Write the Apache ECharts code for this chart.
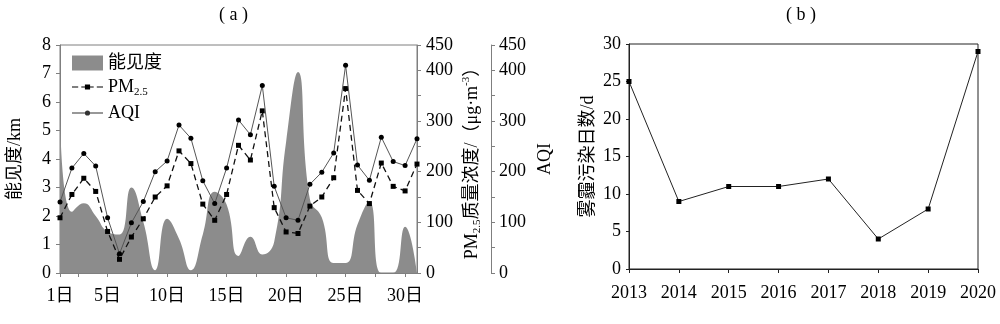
<!DOCTYPE html>
<html>
<head>
<meta charset="utf-8">
<script src="https://cdn.jsdelivr.net/npm/echarts@6/dist/echarts.min.js"></script>
<style>
  html, body { margin: 0; padding: 0; background: #fff; }
  #main { width: 1000px; height: 324px; }
</style>
</head>
<body>
<div id="main"></div>
<script>
// Panel (a): daily visibility, PM2.5 and AQI
const days = [1,2,3,4,5,6,7,8,9,10,11,12,13,14,15,16,17,18,19,20,21,22,23,24,25,26,27,28,29,30,31];
const visibility = [5.6,2.15,2.45,2.0,1.45,1.35,3.0,1.8,0.1,1.9,1.2,0.1,1.35,2.85,2.4,0.6,1.27,0.65,1.1,4.6,7.05,2.6,1.95,0.35,0.35,1.7,2.5,0,0,1.62,0];
const pm25 = [109,155,187,161,82,27,71,107,150,172,241,216,136,104,155,252,223,320,129,81,78,132,150,188,364,163,137,217,171,162,215];
const aqi = [140,207,236,211,109,38,99,141,200,221,292,266,182,137,207,302,273,370,171,109,104,175,199,237,410,213,183,268,220,212,265];
const dayLabels = [1,5,10,15,20,25,30];
const dayTicks = [1,2.5,5,7.5,10,12.5,15,17.5,20,22.5,25,27.5,30];
const concLabels = [0,100,200,300,400,450];

// Panel (b): haze pollution days per year
const years = ['2013','2014','2015','2016','2017','2018','2019','2020'];
const hazeDays = [25,9,11,11,12,4,8,29];

const FONT = "'Liberation Serif', 'Times New Roman', 'Noto Sans CJK SC', serif";
const AXIS_GRAY = '#7f7f7f';
const AREA_GRAY = '#8c8c8c';

const pair = (xs, ys) => xs.map((x, i) => [x, ys[i]]);

// legend glyphs: dashed line with square, solid line with dot
const ICON_DASH_SQUARE = 'path://M0,1.9h6v1.2h-6z M9,1.9h3.5v1.2h-3.5z M12.5,0h5v5h-5z M17.5,1.9h3.5v1.2h-3.5z M24,1.9h6v1.2h-6z';
const ICON_LINE_DOT = 'path://M0,2h30v1h-30z M15,0a2.5,2.5 0 1,1 -0.01,0z';

const chart = echarts.init(document.getElementById('main'), null, { renderer: 'canvas' });

const nameRich = {
  n: { fontFamily: FONT, fontSize: 18, color: '#000', lineHeight: 22 },
  s: { fontFamily: FONT, fontSize: 11, color: '#000', verticalAlign: 'bottom', lineHeight: 22, padding: [8, 0, 0, 0] },
  p: { fontFamily: FONT, fontSize: 11, color: '#000', verticalAlign: 'top', lineHeight: 22, padding: [0, 0, 8, 0] }
};

const option = {
  animation: false,
  textStyle: { fontFamily: FONT, color: '#000' },
  graphic: [
    { type: 'text', left: 240 - 21, top: 6, style: { text: '( a )', font: "18px " + FONT, fill: '#000' } },
    { type: 'text', left: 807 - 21, top: 6, style: { text: '( b )', font: "18px " + FONT, fill: '#000' } }
  ],
  legend: {
    orient: 'vertical',
    left: 72,
    top: 54,
    padding: 0,
    itemWidth: 31,
    itemHeight: 15,
    itemGap: 6,
    symbolKeepAspect: true,
    data: [
      { name: '能见度', icon: 'rect', itemStyle: { color: AREA_GRAY } },
      { name: 'PM2.5', icon: ICON_DASH_SQUARE, itemStyle: { color: '#000', borderWidth: 0 } },
      { name: 'AQI', icon: ICON_LINE_DOT, itemStyle: { color: '#333', borderWidth: 0 } }
    ],
    formatter: (name) => name === 'PM2.5' ? '{n|PM}{s|2.5}' : '{n|' + name + '}',
    textStyle: {
      fontFamily: FONT, fontSize: 18, color: '#000',
      rich: nameRich
    }
  },
  grid: [
    { left: 60, top: 45, width: 357, height: 228, show: true, borderColor: AXIS_GRAY, borderWidth: 1, backgroundColor: 'transparent' },
    { left: 629, top: 44, width: 349, height: 225, show: true, borderColor: '#222', borderWidth: 1, backgroundColor: 'transparent' }
  ],
  xAxis: [
    {
      type: 'value', gridIndex: 0, min: 1, max: 31,
      axisLine: { lineStyle: { color: AXIS_GRAY, width: 1 } },
      axisTick: { show: true, length: 4, lineStyle: { color: AXIS_GRAY }, customValues: dayTicks },
      axisLabel: { customValues: dayLabels, formatter: (v) => v + '日', fontFamily: FONT, fontSize: 18, color: '#000', margin: 14 },
      splitLine: { show: false }
    },
    {
      type: 'category', gridIndex: 1, data: years, boundaryGap: false,
      axisLine: { lineStyle: { color: '#222', width: 1 } },
      axisTick: { show: true, length: 4, lineStyle: { color: '#222' } },
      axisLabel: { fontFamily: FONT, fontSize: 18, color: '#000', margin: 15, interval: 0 },
      splitLine: { show: false }
    }
  ],
  yAxis: [
    {
      type: 'value', gridIndex: 0, min: 0, max: 8, interval: 1,
      name: '能见度/km', nameLocation: 'middle', nameGap: 36,
      nameTextStyle: { fontFamily: FONT, fontSize: 18, color: '#000' },
      axisLine: { show: true, lineStyle: { color: AXIS_GRAY, width: 1 } },
      axisTick: { show: true, length: 4, lineStyle: { color: AXIS_GRAY } },
      axisLabel: { fontFamily: FONT, fontSize: 18, color: '#000', margin: 9 },
      splitLine: { show: false }
    },
    {
      type: 'value', gridIndex: 0, position: 'right', min: 0, max: 450, interval: 50,
      name: '{n|PM}{s|2.5}{n|质量浓度/（μg·m}{p|-3}{n|）}', nameLocation: 'middle', nameGap: 44,
      nameTextStyle: { fontFamily: FONT, fontSize: 18, color: '#000', rich: nameRich },
      axisLine: { show: true, lineStyle: { color: AXIS_GRAY, width: 1 } },
      axisTick: { show: true, length: 4, lineStyle: { color: AXIS_GRAY } },
      axisLabel: { customValues: concLabels, fontFamily: FONT, fontSize: 18, color: '#000', margin: 9 },
      splitLine: { show: false }
    },
    {
      type: 'value', gridIndex: 0, position: 'right', offset: 74, min: 0, max: 450, interval: 50,
      name: 'AQI', nameLocation: 'middle', nameGap: 45,
      nameTextStyle: { fontFamily: FONT, fontSize: 18, color: '#000' },
      axisLine: { show: true, lineStyle: { color: AXIS_GRAY, width: 1 } },
      axisTick: { show: true, length: 4, lineStyle: { color: AXIS_GRAY } },
      axisLabel: { customValues: concLabels, fontFamily: FONT, fontSize: 18, color: '#000', margin: 8 },
      splitLine: { show: false }
    },
    {
      type: 'value', gridIndex: 1, min: 0, max: 30, interval: 5,
      name: '雾霾污染日数/d', nameLocation: 'middle', nameGap: 32,
      nameTextStyle: { fontFamily: FONT, fontSize: 18, color: '#000' },
      axisLine: { show: true, lineStyle: { color: '#222', width: 1 } },
      axisTick: { show: true, length: 3, lineStyle: { color: '#222' } },
      axisLabel: { fontFamily: FONT, fontSize: 18, color: '#000', margin: 8 },
      splitLine: { show: false }
    }
  ],
  series: [
    {
      name: '能见度', type: 'line', xAxisIndex: 0, yAxisIndex: 0,
      data: pair(days, visibility),
      smooth: 0.5, showSymbol: false, symbol: 'none',
      lineStyle: { width: 0, color: AREA_GRAY },
      itemStyle: { color: AREA_GRAY },
      areaStyle: { color: AREA_GRAY, opacity: 1 },
      z: 1
    },
    {
      name: 'PM2.5', type: 'line', xAxisIndex: 0, yAxisIndex: 1,
      data: pair(days, pm25),
      symbol: 'rect', symbolSize: 5,
      lineStyle: { color: '#111', width: 1.3, type: [6, 4] },
      itemStyle: { color: '#000' },
      z: 3
    },
    {
      name: 'AQI', type: 'line', xAxisIndex: 0, yAxisIndex: 2,
      data: pair(days, aqi),
      symbol: 'circle', symbolSize: 5,
      lineStyle: { color: '#555', width: 1 },
      itemStyle: { color: '#000' },
      z: 4
    },
    {
      name: '雾霾污染日数', type: 'line', xAxisIndex: 1, yAxisIndex: 3,
      data: hazeDays,
      symbol: 'rect', symbolSize: 5,
      lineStyle: { color: '#222', width: 1 },
      itemStyle: { color: '#000' },
      z: 3
    }
  ]
};

chart.setOption(option);
</script>
</body>
</html>
